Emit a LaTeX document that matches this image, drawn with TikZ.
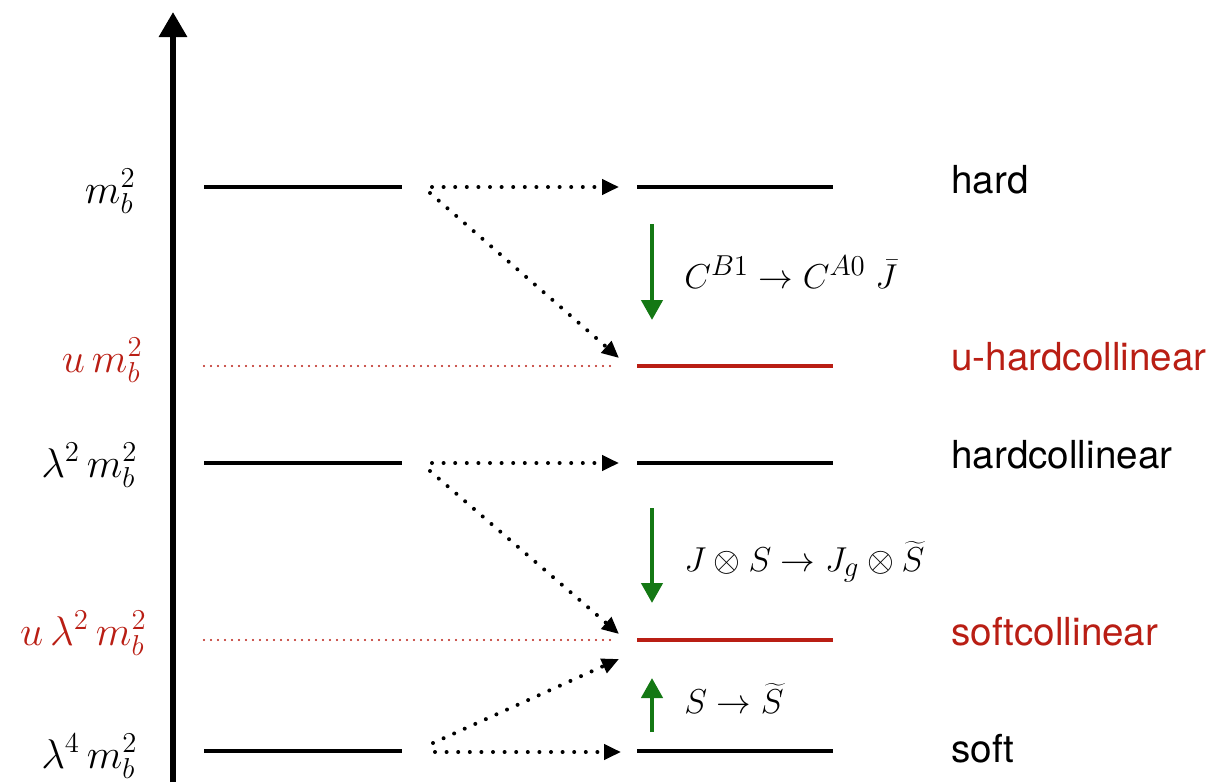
\documentclass[tikz,border=0pt]{standalone}
\usepackage{fontspec}
\newfontfamily\labfont{TeX Gyre Heros}
\usetikzlibrary{arrows.meta}
\definecolor{lvred}{RGB}{185,30,20}
\definecolor{lvgreen}{RGB}{20,120,20}
\tikzset{
 axisline/.style={line width=3pt,-{Triangle[length=12.5pt,width=13.5pt]}},
 lbar/.style={line width=2.3pt},
 rbar/.style={line width=2pt},
 dotarrow/.style={line width=2pt,line cap=round,dash pattern=on 0pt off 5.8pt,-{Triangle[length=8.5pt,width=7.5pt]}},
 reddots/.style={lvred,line width=1.2pt,line cap=round,dash pattern=on 0pt off 3.5pt},
 greenarrow/.style={lvgreen,line width=2.2pt,-{Triangle[length=10pt,width=10.5pt]}},
 scalelab/.style={anchor=base east,inner sep=0pt,font=\fontsize{21}{25}\selectfont},
 namelab/.style={anchor=base west,inner sep=0pt,font=\labfont\fontsize{19.3}{23}\selectfont},
 steplab/.style={anchor=base west,inner sep=0pt,font=\fontsize{19}{23}\selectfont},
}
\begin{document}
\begin{tikzpicture}[x=0.5pt,y=-0.5pt]
\useasboundingbox (0,0) rectangle (1215,782);
% axis
\coordinate (axb) at (173,782);
\coordinate (axt) at (173,12);
\draw[axisline] (axb) -- (axt);
% left bars
\coordinate (lHa) at (204,187); \coordinate (lHb) at (402,187);
\coordinate (lUa) at (204,366); \coordinate (lUb) at (617,366);
\coordinate (lCa) at (204,463); \coordinate (lCb) at (402,463);
\coordinate (lKa) at (204,640); \coordinate (lKb) at (617,640);
\coordinate (lSa) at (204,751); \coordinate (lSb) at (402,751);
\draw[lbar] (lHa) -- (lHb);
\draw[lbar] (lCa) -- (lCb);
\draw[lbar] (lSa) -- (lSb);
\draw[reddots] (lUa) -- (lUb);
\draw[reddots] (lKa) -- (lKb);
% right bars
\coordinate (rHa) at (637,187); \coordinate (rHb) at (833,187);
\coordinate (rUa) at (637,366); \coordinate (rUb) at (833,366);
\coordinate (rCa) at (637,463); \coordinate (rCb) at (833,463);
\coordinate (rKa) at (637,640); \coordinate (rKb) at (833,640);
\coordinate (rSa) at (637,751); \coordinate (rSb) at (833,751);
\draw[rbar] (rHa) -- (rHb);
\draw[rbar,lvred] (rUa) -- (rUb);
\draw[rbar] (rCa) -- (rCb);
\draw[rbar,lvred] (rKa) -- (rKb);
\draw[rbar] (rSa) -- (rSb);
% dotted arrows
\coordinate (h1s) at (432,187); \coordinate (h1e) at (619,187);
\coordinate (h2s) at (430,193); \coordinate (h2e) at (619,358);
\coordinate (c1s) at (432,463); \coordinate (c1e) at (619,463);
\coordinate (c2s) at (430,471); \coordinate (c2e) at (619,634);
\coordinate (s1s) at (435,752); \coordinate (s1e) at (621,752);
\coordinate (s2s) at (433,743); \coordinate (s2e) at (619,659);
\draw[dotarrow] (h1s) -- (h1e);
\draw[dotarrow] (h2s) -- (h2e);
\draw[dotarrow] (c1s) -- (c1e);
\draw[dotarrow] (c2s) -- (c2e);
\draw[dotarrow] (s1s) -- (s1e);
\draw[dotarrow] (s2s) -- (s2e);
% green arrows
\coordinate (g1s) at (652,224); \coordinate (g1e) at (652,320);
\coordinate (g2s) at (652,508); \coordinate (g2e) at (652,603);
\coordinate (g3s) at (652,732); \coordinate (g3e) at (652,678);
\draw[greenarrow] (g1s) -- (g1e);
\draw[greenarrow] (g2s) -- (g2e);
\draw[greenarrow] (g3s) -- (g3e);
% step labels
\node[steplab] (t1) at (684,288) {$C^{B1}\to C^{A0}\;\bar J$};
\node[steplab] (t2) at (684,571) {$J\otimes S\to J_g\otimes \widetilde S$};
\node[steplab] (t3) at (684,713) {$S\to \widetilde S$};
% scale labels
\node[scalelab] (sH) at (136,203) {$m_b^2$};
\node[scalelab,lvred] (sU) at (143,372) {$u\,m_b^2$};
\node[scalelab] (sC) at (138,477) {$\lambda^2\,m_b^2$};
\node[scalelab,lvred] (sK) at (147,645) {$u\,\lambda^2\,m_b^2$};
\node[scalelab] (sS) at (138,768) {$\lambda^4\,m_b^2$};
% mode names
\node[namelab] (nH) at (951,193) {hard};
\node[namelab,lvred] (nU) at (951,370) {u-hardcollinear};
\node[namelab] (nC) at (951,468) {hardcollinear};
\node[namelab,lvred] (nK) at (951,645) {softcollinear};
\node[namelab] (nS) at (951,762) {soft};
\end{tikzpicture}
\end{document}
